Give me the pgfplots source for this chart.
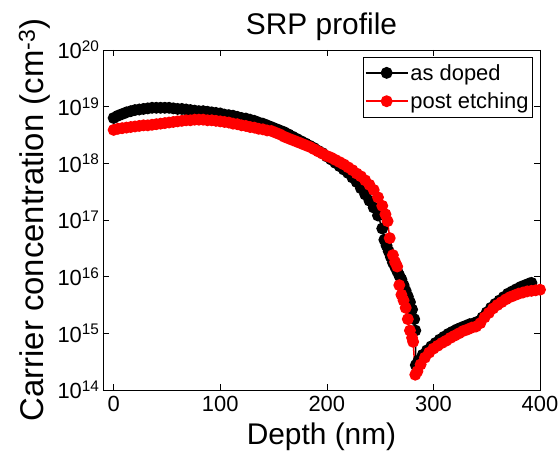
\documentclass[border=0pt]{standalone}
\usepackage{fontspec}
\setmainfont{Liberation Sans}
\usepackage{pgfplots}
\pgfplotsset{compat=1.18}
\usepackage{pgfplotstable}

\pgfplotstableread{
x y
0 6.31e18
4 6.92e18
8 7.41e18
12 7.94e18
16 8.32e18
20 8.71e18
24 8.91e18
28 9.12e18
32 9.33e18
36 9.55e18
40 9.55e18
44 9.55e18
48 9.55e18
52 9.55e18
56 9.33e18
60 9.12e18
64 9.12e18
68 8.91e18
72 8.71e18
76 8.51e18
80 8.32e18
84 8.32e18
88 8.13e18
92 7.94e18
96 7.76e18
100 7.59e18
104 7.24e18
108 7.08e18
112 6.92e18
116 6.61e18
120 6.31e18
124 6.17e18
128 5.89e18
132 5.62e18
136 5.25e18
140 5.01e18
144 4.68e18
148 4.37e18
152 4.07e18
156 3.80e18
160 3.55e18
164 3.24e18
168 2.95e18
172 2.69e18
176 2.45e18
180 2.24e18
184 2.04e18
188 1.86e18
192 1.66e18
196 1.51e18
200 1.32e18
204 1.17e18
208 1.02e18
212 8.91e17
216 7.76e17
220 6.76e17
224 5.62e17
228 4.68e17
232 3.63e17
236 2.82e17
240 2.19e17
244 1.66e17
248 1.20e17
252 7.08e16
254 4.47e16
256 3.55e16
258 2.82e16
260 2.24e16
262 1.78e16
264 1.51e16
266 1.26e16
268 1.05e16
270 8.91e15
272 7.08e15
274 5.62e15
276 4.47e15
278 3.55e15
280 2.63e15
282 1.78e15
283 1.12e15
283.5 2.75e14
286 3.31e14
290 4.17e14
294 5.01e14
298 5.89e14
302 6.76e14
306 7.76e14
310 8.71e14
314 9.77e14
318 1.07e15
322 1.17e15
326 1.26e15
330 1.35e15
334 1.45e15
338 1.51e15
342 1.62e15
346 1.91e15
350 2.34e15
354 2.82e15
358 3.31e15
362 3.80e15
366 4.37e15
370 5.01e15
374 5.50e15
378 6.03e15
382 6.61e15
386 7.08e15
390 7.59e15
392 7.76e15
}\asdoped

\pgfplotstableread{
x y
0 3.89e18
4 4.07e18
8 4.17e18
12 4.27e18
16 4.37e18
20 4.47e18
24 4.57e18
28 4.68e18
32 4.68e18
36 4.79e18
40 4.90e18
44 5.01e18
48 5.13e18
52 5.25e18
56 5.37e18
60 5.50e18
64 5.62e18
68 5.75e18
72 5.75e18
76 5.89e18
80 5.89e18
84 5.89e18
88 5.75e18
92 5.75e18
96 5.62e18
100 5.50e18
104 5.37e18
108 5.25e18
112 5.01e18
116 4.90e18
120 4.68e18
124 4.57e18
128 4.37e18
132 4.27e18
136 4.07e18
140 3.98e18
144 3.80e18
148 3.72e18
152 3.47e18
156 3.24e18
160 2.95e18
164 2.75e18
168 2.57e18
172 2.40e18
176 2.24e18
180 2.09e18
184 1.95e18
188 1.78e18
192 1.62e18
196 1.48e18
200 1.35e18
204 1.26e18
208 1.15e18
212 1.05e18
216 9.55e17
220 8.51e17
224 7.59e17
228 6.61e17
232 5.89e17
236 5.01e17
240 4.17e17
244 3.39e17
248 2.51e17
252 1.78e17
255 1.26e17
257 9.55e16
259 4.79e16
262 2.40e16
264 1.82e16
266 1.51e16
268 7.08e15
270 4.79e15
272 3.80e15
274 2.82e15
276 1.78e15
278 1.12e15
280 8.32e14
281 7.08e14
283 1.86e14
285 2.14e14
288 2.82e14
292 3.72e14
296 4.57e14
300 5.37e14
304 6.03e14
308 6.76e14
312 7.41e14
316 8.32e14
320 9.12e14
324 1.00e15
328 1.10e15
332 1.17e15
336 1.26e15
340 1.32e15
344 1.51e15
348 1.91e15
352 2.29e15
356 2.75e15
360 3.16e15
364 3.55e15
368 3.98e15
372 4.37e15
376 4.68e15
380 5.01e15
384 5.25e15
388 5.50e15
392 5.62e15
396 5.75e15
400 5.89e15
}\postetch

\begin{document}
\begin{tikzpicture}
\begin{axis}[
  name=ax,
  scale only axis,
  width=437bp, height=340bp,
  xmin=-10, xmax=400,
  ymode=log, log basis y=10,
  ymin=1e14, ymax=1e20,
  xtick={0,100,200,300,400},
  ytick={1e14,1e15,1e16,1e17,1e18,1e19,1e20},
  yticklabel={10\textsuperscript{\pgfmathparse{int(round(\tick))}\pgfmathresult}},
  /pgf/number format/assume math mode=true,
  tick label style={font=\fontsize{22}{26}\selectfont},
  xticklabel style={yshift=-3bp},
  xlabel style={font=\fontsize{30}{36}\selectfont, yshift=-4bp},
  ylabel style={font=\fontsize{33}{38}\selectfont},
  title style={font=\fontsize{30}{36}\selectfont},
  title={SRP profile},
  xlabel={Depth (nm)},
  ylabel={Carrier concentration (cm\textsuperscript{-3})},
  axis line style={line width=0.8bp},
  major tick length=6bp,
  minor tick length=3.5bp,
  tick style={line width=0.6bp, black},
  legend style={font=\fontsize{22}{26}\selectfont, at={(0.984,0.98)}, anchor=north east, draw=black, line width=0.8bp, inner xsep=2bp, inner ysep=5bp, row sep=7bp},
  legend cell align=left,
  legend image code/.code={\draw[mark repeat=2,mark phase=2,#1] plot coordinates {(0bp,0bp) (21bp,0bp) (42bp,0bp)};},
]
\addplot[black, line width=1.5bp, mark=*, mark size=5.2bp, mark options={fill=black, draw=black}] table[x=x,y=y] {\asdoped};
\addlegendentry{as doped}
\addplot[red, line width=1.5bp, mark=*, mark size=5.2bp, mark options={fill=red, draw=red}] table[x=x,y=y] {\postetch};
\addlegendentry{post etching}
\end{axis}
\pgfresetboundingbox
\path ([shift={(-103bp,-68bp)}]ax.south west) rectangle ([shift={(19bp,50bp)}]ax.north east);
\end{tikzpicture}
\end{document}
